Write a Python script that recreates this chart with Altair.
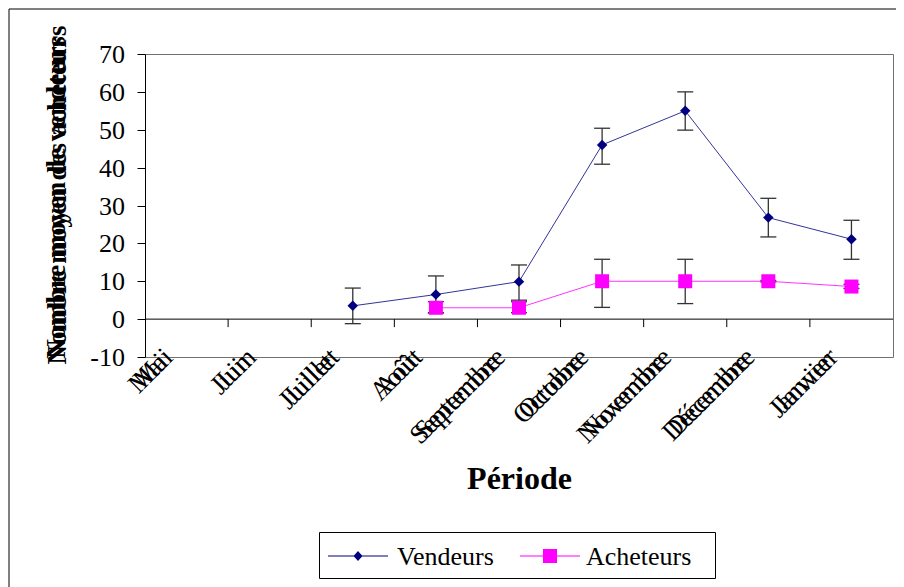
import altair as alt
import pandas as pd

SERIF = "Liberation Serif"

# ---- data ----
months = ["Mai", "Juin", "Juillet", "Août", "Septembre", "Octobre", "Novembre", "Décembre", "Janvier"]
vend_mean = [None, None, 3.5, 6.5, 9.9, 46.0, 55.0, 26.8, 21.1]
vend_low = [None, None, -1.2, 1.6, 5.0, 40.9, 49.9, 21.7, 15.8]
vend_high = [None, None, 8.2, 11.4, 14.3, 50.4, 60.0, 31.9, 26.1]
ach_mean = [None, None, None, 3.0, 3.0, 10.0, 10.0, 10.0, 8.6]
ach_low = [None, None, None, 1.7, 1.7, 3.1, 4.1, 9.8, 8.1]
ach_high = [None, None, None, 4.6, 4.6, 15.8, 15.8, 10.2, 9.2]
series = ["Vendeurs", "Acheteurs"]
colors = ["#000080", "#FF00FF"]
y_ticks = [-10, 0, 10, 20, 30, 40, 50, 60, 70]
y_tick_labels = ["-10", "0", "10", "20", "30", "40", "50", "60", "70"]
zero_line = [0]
y_title_a = "Nombre moyen de vendeurs"
y_title_b = "Nombre moyen des acheteurs"
x_title = "Période"

rows = []
for i, m in enumerate(months):
    if vend_mean[i] is not None:
        rows.append(dict(idx=i, month=m, series="Vendeurs", mean=vend_mean[i], lo=vend_low[i], hi=vend_high[i]))
    if ach_mean[i] is not None:
        rows.append(dict(idx=i, month=m, series="Acheteurs", mean=ach_mean[i], lo=ach_low[i], hi=ach_high[i]))
df = pd.DataFrame(rows)
lab_df = pd.DataFrame({"idx": list(range(len(months))), "month": months})
bnd_df = pd.DataFrame({"b": [i + 0.5 for i in range(len(months) - 1)]})
zero_df = pd.DataFrame({"z": zero_line})
ytick_df = pd.DataFrame({"v": y_ticks, "t": y_tick_labels})

xs = alt.Scale(domain=[-0.5, len(months) - 0.5], nice=False, zero=False)
ys = alt.Scale(domain=[y_ticks[0], y_ticks[-1]], nice=False, zero=False)

xaxis = alt.Axis(labels=False, ticks=False, domain=False, grid=False,
                 title=x_title, titleFont=SERIF, titleFontSize=32, titleFontWeight="bold",
                 titleColor="black", titleX=374, titleY=131, titleBaseline="alphabetic",
                 titleAlign="center", titleAnchor="middle")
yaxis = alt.Axis(values=y_ticks, grid=False, domainColor="black", tickColor="black",
                 tickSize=8, labels=False,
                 title=y_title_a, titleFont=SERIF, titleFontSize=27, titleFontWeight="bold",
                 titleColor="black", titleAngle=270, titleX=-81, titleY=143,
                 titleBaseline="alphabetic", titleAlign="center")

X = alt.X("idx:Q", scale=xs, axis=xaxis)

col_nolegend = alt.Color("series:N", scale=alt.Scale(domain=series, range=colors), legend=None)

# y tick labels (serif text on the y scale)
ylabels = alt.Chart(ytick_df).mark_text(align="right", baseline="middle", font=SERIF,
                                        fontSize=26, color="black", dy=1).encode(
    x=alt.value(-20), y=alt.Y("v:Q", scale=ys, axis=yaxis), text="t:N")

# error bars
err_rule = alt.Chart(df).mark_rule(color="#333333", strokeWidth=1.3).encode(
    x=X, y=alt.Y("lo:Q", scale=ys, axis=yaxis), y2="hi:Q")
cap_lo = alt.Chart(df).mark_rule(color="#333333", strokeWidth=1.3, xOffset=-8, x2Offset=8).encode(
    x=X, x2="idx:Q", y=alt.Y("lo:Q", scale=ys, axis=yaxis))
cap_hi = alt.Chart(df).mark_rule(color="#333333", strokeWidth=1.3, xOffset=-8, x2Offset=8).encode(
    x=X, x2="idx:Q", y=alt.Y("hi:Q", scale=ys, axis=yaxis))

# series lines and markers
lines = alt.Chart(df).mark_line(strokeWidth=1, opacity=0.8).encode(
    x=X, y=alt.Y("mean:Q", scale=ys, axis=yaxis), color=col_nolegend, detail="series:N")
points = alt.Chart(df).mark_point(filled=True, opacity=1, strokeWidth=0).encode(
    x=X, y=alt.Y("mean:Q", scale=ys, axis=yaxis), color=col_nolegend,
    shape=alt.Shape("series:N", scale=alt.Scale(domain=series, range=["diamond", "square"]), legend=None),
    size=alt.Size("series:N", scale=alt.Scale(domain=series, range=[110, 196]), legend=None))

# zero line with category-boundary ticks
zero = alt.Chart(zero_df).mark_rule(color="black", strokeWidth=1).encode(
    y=alt.Y("z:Q", scale=ys, axis=yaxis))
bticks = alt.Chart(bnd_df).mark_rule(color="black", strokeWidth=1, y2Offset=8).encode(
    x=alt.X("b:Q", scale=xs, axis=xaxis), y=alt.Y(datum=0, scale=ys, axis=yaxis), y2=alt.Y2(datum=0))

# rotated month labels (drawn twice, slightly offset, as in the original)
lab_a = alt.Chart(lab_df).mark_text(angle=315, align="right", baseline="top", font=SERIF,
                                    fontSize=27, color="black", xOffset=-27, yOffset=-13).encode(
    x=alt.X("idx:Q", scale=xs, axis=xaxis), y=alt.Y(datum=-10, scale=ys, axis=yaxis), text="month:N")
lab_b = alt.Chart(lab_df).mark_text(angle=315, align="right", baseline="top", font=SERIF,
                                    fontSize=27, color="black", xOffset=-32, yOffset=-8).encode(
    x=alt.X("idx:Q", scale=xs, axis=xaxis), y=alt.Y(datum=-10, scale=ys, axis=yaxis), text="month:N")

# second (overlapping) y title
ytitle_b = alt.Chart(zero_df).mark_text(text=y_title_b, angle=270, font=SERIF, fontSize=27,
                                        fontWeight="bold", align="center", baseline="alphabetic",
                                        color="black").encode(x=alt.value(-79), y=alt.value(141))

# outer chart frame
frame = alt.Chart(zero_df).mark_rect(fill="transparent", stroke="black", strokeWidth=1).encode(
    x=alt.value(-136), x2=alt.value(780), y=alt.value(-45), y2=alt.value(620))

# legend (line + marker symbols); labels drawn in serif beneath the unfilled legend box
path_v = "M-1,-0.035H3V0.035H-1Z M1,-0.33L1.3,0L1,0.33L0.7,0Z"
path_a = "M-1,-0.035H3V0.035H-1Z M0.53,-0.47H1.47V0.47H0.53Z"
leg = alt.Legend(title=None, orient="none", legendX=174, legendY=478, direction="horizontal",
                 strokeColor="black", padding=9,
                 labelFontSize=26, labelOpacity=0, labelOffset=38, columnPadding=14,
                 symbolSize=900, symbolStrokeWidth=0, symbolOpacity=1, labelLimit=300)
legend_layer = alt.Chart(df).transform_filter("false").mark_point(filled=True, opacity=1).encode(
    x=X, y=alt.Y("mean:Q", scale=ys, axis=yaxis),
    color=alt.Color("series:N", scale=alt.Scale(domain=series, range=colors), legend=leg),
    shape=alt.Shape("series:N", scale=alt.Scale(domain=series, range=[path_v, path_a]), legend=leg))
leg_text_v = alt.Chart(zero_df).mark_text(text=series[0], align="left", baseline="middle", font=SERIF,
                                          fontSize=26, color="black").encode(
    x=alt.value(252), y=alt.value(503))
leg_text_a = alt.Chart(zero_df).mark_text(text=series[1], align="left", baseline="middle", font=SERIF,
                                          fontSize=26, color="black").encode(
    x=alt.value(441), y=alt.value(503))

chart = alt.layer(
    frame, zero, bticks, err_rule, cap_lo, cap_hi, lines, points, ylabels, lab_a, lab_b,
    ytitle_b, legend_layer, leg_text_v, leg_text_a
).resolve_scale(
    color="independent", shape="independent", size="independent"
).properties(
    width=748, height=303,
    autosize=alt.AutoSizeParams(type="none"),
    padding={"left": 137, "top": 46, "right": 3, "bottom": 230},
    background="white",
).configure_view(stroke="#707070", strokeWidth=1)

chart.save("out.html", embed_options={"renderer": "svg", "actions": False})
